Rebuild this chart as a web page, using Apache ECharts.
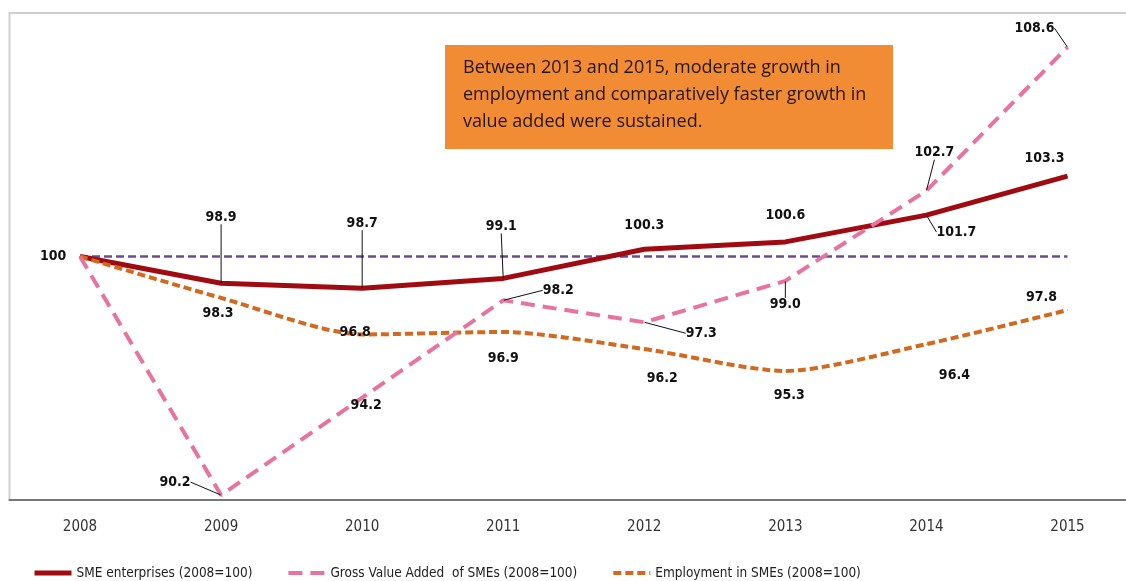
<!DOCTYPE html>
<html>
<head>
<meta charset="utf-8">
<script src="https://cdn.jsdelivr.net/npm/echarts@6/dist/echarts.min.js"></script>
<style>
  html, body { margin: 0; padding: 0; background: #fff; }
  #chart { width: 1126px; height: 581px; }
</style>
</head>
<body>
<div id="chart"></div>
<script>
// chart data
const years = ['2008', '2009', '2010', '2011', '2012', '2013', '2014', '2015'];
const smeEnterprises = [100, 98.9, 98.7, 99.1, 100.3, 100.6, 101.7, 103.3];
const grossValueAdded = [100, 90.2, 94.2, 98.2, 97.3, 99.0, 102.7, 108.6];
const employment = [100, 98.3, 96.8, 96.9, 96.2, 95.3, 96.4, 97.8];
const baseline = [100, 100, 100, 100, 100, 100, 100, 100];

const seriesNames = [
  'SME enterprises (2008=100)',
  'Gross Value Added  of SMEs (2008=100)',
  'Employment in SMEs (2008=100)'
];
const noteText = 'Between 2013 and 2015, moderate growth in\nemployment and comparatively faster growth in\nvalue added were sustained.';

// label placement (offset from point, px) and whether a leader line is drawn
const smeLabelPos = [[-27, 0], [0, -66], [0, -65], [-2, -52], [0, -24], [0, -27], [30, 17], [-23, -18]];
const smeLeader = [false, true, true, true, false, false, true, false];
const gvaLabelPos = [null, [-46, -13], [4, 8], [55, -10], [57, 11], [0, 24], [8, -38], [-33, -19]];
const gvaLeader = [false, true, false, true, true, true, true, true];
const empLabelPos = [null, [-3, 15], [-7, -2], [0, 26], [18, 29], [4, 24], [28, 31], [-26, -13]];
const empLeader = [false, false, false, false, false, false, false, false];

const narrow = '"Liberation Sans Narrow", "DejaVu Sans Condensed", sans-serif';

function buildData(values, pos, leader) {
  return values.map(function (v, i) {
    return {
      value: v,
      label: { show: pos[i] != null },
      labelLine: { show: leader[i] }
    };
  });
}

function labelSeries(name, values, pos, leader, color, lineStyle, smooth) {
  return {
    name: name,
    type: 'line',
    data: buildData(values, pos, leader),
    smooth: smooth,
    symbol: 'circle',
    symbolSize: 1,
    itemStyle: { color: color },
    lineStyle: lineStyle,
    label: {
      show: true,
      position: 'inside',
      color: '#111',
      fontFamily: narrow,
      fontWeight: 'bold',
      fontSize: 14,
      formatter: function (p) {
        return p.dataIndex === 0 ? String(p.value) : p.value.toFixed(1);
      }
    },
    labelLine: {
      show: false,
      lineStyle: { color: '#111', width: 1 }
    },
    labelLayout: function (p) {
      const o = pos[p.dataIndex] || [0, 0];
      return { dx: o[0], dy: o[1] };
    },
    emphasis: { disabled: true }
  };
}

const chart = echarts.init(document.getElementById('chart'));

const option = {
  animation: false,
  backgroundColor: '#fff',
  grid: {
    left: 9.5,
    width: 1128.5,
    top: 13,
    bottom: 81,
    outerBoundsMode: 'none',
    containLabel: false,
    show: true,
    borderColor: '#cfcfcf',
    borderWidth: 2,
    backgroundColor: 'transparent'
  },
  xAxis: {
    type: 'category',
    data: years,
    boundaryGap: true,
    axisLine: { lineStyle: { color: '#777', width: 2 } },
    axisTick: { show: false },
    axisLabel: { color: '#333', fontFamily: narrow, fontSize: 15, margin: 20 },
    splitLine: { show: false }
  },
  yAxis: {
    type: 'value',
    min: 90,
    max: 110,
    show: false
  },
  legend: {
    data: seriesNames,
    left: 27,
    top: 561,
    itemWidth: 37,
    itemHeight: 14,
    itemGap: 34,
    itemStyle: { opacity: 0 },
    lineStyle: { width: 'inherit' },
    textStyle: { color: '#222', fontFamily: narrow, fontSize: 13.5 }
  },
  graphic: [
    {
      type: 'group',
      left: 445,
      top: 45,
      children: [
        {
          type: 'rect',
          shape: { x: 0, y: 0, width: 448, height: 104 },
          style: { fill: '#F18B34' }
        },
        {
          type: 'text',
          x: 18,
          y: 9,
          style: {
            text: noteText,
            fill: '#24170c',
            font: '18px "Open Sans", sans-serif',
            lineHeight: 27
          }
        }
      ]
    }
  ],
  series: [
    {
      name: 'baseline',
      type: 'line',
      data: baseline,
      symbol: 'none',
      silent: true,
      lineStyle: { color: '#6A4C93', width: 2.5, type: [8, 4] }
    },
    labelSeries(seriesNames[0], smeEnterprises, smeLabelPos, smeLeader, '#A00B12',
      { color: '#A00B12', width: 5 }, false),
    labelSeries(seriesNames[2], employment, empLabelPos, empLeader, '#D2691E',
      { color: '#D2691E', width: 4, type: [8, 4] }, 0.25),
    labelSeries(seriesNames[1], grossValueAdded, gvaLabelPos, gvaLeader, '#E8739E',
      { color: '#E8739E', width: 4, type: [14, 8] }, false)
  ]
};

chart.setOption(option);
</script>
</body>
</html>
